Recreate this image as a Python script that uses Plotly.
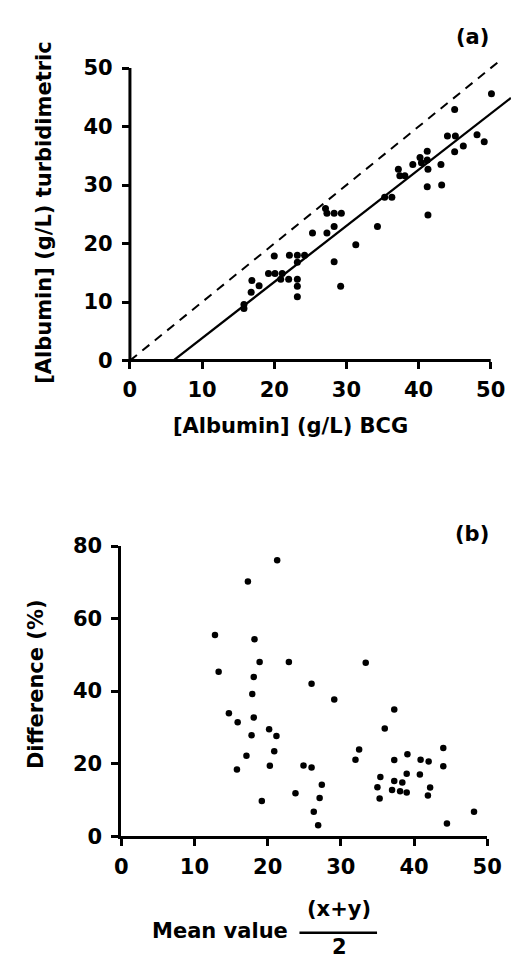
import plotly.graph_objects as go

W, H = 521, 963

# ---------------- Panel (a): turbidimetric vs BCG ----------------
bcg = [15.8, 15.8, 16.9, 16.8, 17.9, 20.0, 19.2, 20.1, 21.1, 20.9, 22.0, 22.1, 23.2, 24.2,
       23.2, 23.2, 23.2, 23.2, 25.3, 27.3, 28.3, 27.1, 27.3, 28.3, 29.3, 28.3, 29.2, 31.3,
       34.3, 35.3, 36.3, 37.2, 37.4, 38.1, 39.2, 40.2, 40.4, 41.2, 41.2, 41.3, 41.2, 41.3,
       43.1, 43.2, 44.0, 45.1, 45.0, 46.2, 45.0, 48.1, 49.1, 50.1]
turb = [9.6, 8.9, 13.7, 11.7, 12.8, 17.9, 14.9, 14.9, 14.9, 13.9, 13.9, 18.0, 18.0, 18.0,
        16.8, 13.9, 12.7, 10.9, 21.8, 21.8, 22.9, 26.0, 25.2, 25.2, 25.2, 16.9, 12.7, 19.8,
        22.9, 27.9, 27.9, 32.7, 31.6, 31.6, 33.5, 34.7, 33.8, 35.8, 34.3, 32.7, 29.7, 24.9,
        33.5, 30.0, 38.4, 38.4, 35.7, 36.7, 42.9, 38.6, 37.4, 45.6]

identity_x = [0, 51.6]
identity_y = [0, 51.6]
fit_x = [6.0, 52.8]
fit_y = [0.0, 44.9]

ticks_a = [0, 10, 20, 30, 40, 50]

# ---------------- Panel (b): difference vs mean ----------------
mean_val = [12.8, 13.3, 17.3, 21.3, 18.2, 18.9, 22.9, 33.4, 18.1, 26.0, 17.9, 29.1, 14.7, 18.1,
            15.9, 37.3, 20.2, 21.2, 17.8, 36.0, 20.9, 17.1, 15.8, 20.3, 24.9, 26.0, 19.2, 23.8,
            27.4, 27.1, 26.3, 26.9, 32.5, 32.0, 35.4, 35.0, 35.3, 37.3, 39.1, 37.3, 38.4, 39.0,
            37.0, 38.1, 39.0, 40.9, 42.0, 40.8, 42.2, 41.9, 44.0, 44.0, 44.5, 48.2]
diff_pct = [55.5, 45.3, 70.2, 76.1, 54.3, 48.0, 48.0, 47.8, 43.9, 42.0, 39.2, 37.7, 33.9, 32.7,
            31.4, 34.9, 29.5, 27.6, 27.8, 29.7, 23.4, 22.2, 18.4, 19.4, 19.5, 18.9, 9.7, 11.8,
            14.2, 10.5, 6.7, 3.0, 23.9, 21.1, 16.3, 13.5, 10.4, 21.0, 22.6, 15.2, 14.8, 17.2,
            12.7, 12.4, 12.0, 21.1, 20.6, 17.0, 13.4, 11.2, 24.3, 19.3, 3.5, 6.7]

ticks_bx = [0, 10, 20, 30, 40, 50]
ticks_by = [0, 20, 40, 60, 80]

FONT = "DejaVu Sans"

# layout geometry (pixels)
A_L, A_R, A_B, A_T = 120.0, 517.8, 349.3, 40.3
A_XR = [0, 52.8]
A_YR = [0, 51.5]
B_L, B_R, B_B, B_T = 111.0, 493.0, 837.0, 539.5


def px(p):
    return p / W


def py(p):
    return 1 - p / H


def ax_px(xv):
    return A_L + (xv - A_XR[0]) / (A_XR[1] - A_XR[0]) * (A_R - A_L)


def ay_px(yv):
    return A_B - (yv - A_YR[0]) / (A_YR[1] - A_YR[0]) * (A_B - A_T)


fig = go.Figure()

fig.add_trace(go.Scatter(x=identity_x, y=identity_y, mode="lines",
                         line=dict(color="black", width=2, dash="9px,7px"),
                         xaxis="x", yaxis="y", hoverinfo="skip"))
fig.add_trace(go.Scatter(x=fit_x, y=fit_y, mode="lines",
                         line=dict(color="black", width=2.3),
                         xaxis="x", yaxis="y", hoverinfo="skip"))
fig.add_trace(go.Scatter(x=bcg, y=turb, mode="markers",
                         marker=dict(color="black", size=7),
                         xaxis="x", yaxis="y", cliponaxis=False))

fig.add_trace(go.Scatter(x=mean_val, y=diff_pct, mode="markers",
                         marker=dict(color="black", size=6.5),
                         xaxis="x2", yaxis="y2", cliponaxis=False))

tickfont = dict(family=FONT, size=21, color="black", weight="bold")

fig.update_layout(
    width=W, height=H, showlegend=False,
    paper_bgcolor="white", plot_bgcolor="white",
    margin=dict(l=0, r=0, t=0, b=0),
    xaxis=dict(domain=[px(A_L), px(A_R)], range=A_XR, anchor="y",
               tickvals=ticks_a, ticks="outside", ticklen=7, tickwidth=2.5,
               tickcolor="black", showline=False, showgrid=False, zeroline=False,
               tickfont=tickfont, ticklabelstandoff=3),
    yaxis=dict(domain=[py(A_B), py(A_T)], range=A_YR, anchor="x",
               tickvals=ticks_a, ticks="outside", ticklen=7, tickwidth=2.5,
               tickcolor="black", showline=False, showgrid=False, zeroline=False,
               tickfont=tickfont, ticklabelstandoff=5),
    xaxis2=dict(domain=[px(B_L), px(B_R)], range=[0, 50], anchor="y2",
                tickvals=ticks_bx, ticks="outside", ticklen=7, tickwidth=2.5,
                tickcolor="black", showline=True, linewidth=3, linecolor="black",
                showgrid=False, zeroline=False, tickfont=tickfont, ticklabelstandoff=3),
    yaxis2=dict(domain=[py(B_B), py(B_T)], range=[0, 80], anchor="x2",
                tickvals=ticks_by, ticks="outside", ticklen=7, tickwidth=2.5,
                tickcolor="black", showline=True, linewidth=3, linecolor="black",
                showgrid=False, zeroline=False, tickfont=tickfont, ticklabelstandoff=5),
)

# axis lines of panel (a) (they stop at 50 while the data lines run past)
fig.add_shape(type="line", xref="paper", yref="paper",
              x0=px(ax_px(0) - 1.5), x1=px(ax_px(50)), y0=py(ay_px(0)), y1=py(ay_px(0)),
              line=dict(color="black", width=3))
fig.add_shape(type="line", xref="paper", yref="paper",
              x0=px(ax_px(0)), x1=px(ax_px(0)), y0=py(ay_px(0) + 1.5), y1=py(ay_px(50)),
              line=dict(color="black", width=3))

title_font = dict(family=FONT, size=21, color="black", weight="bold")

ann = [
    dict(text="(a)", x=px(478), y=py(17)),
    dict(text="[Albumin] (g/L) turbidimetric", x=px(30), y=py(197), textangle=-90),
    dict(text="[Albumin] (g/L) BCG", x=px(288), y=py(416)),
    dict(text="(b)", x=px(477), y=py(527)),
    dict(text="Difference (%)", x=px(22), y=py(681), textangle=-90),
    dict(text="Mean value", x=px(214), y=py(934)),
    dict(text="(x+y)", x=px(338), y=py(912)),
    dict(text="2", x=px(339), y=py(951)),
]
for a in ann:
    fig.add_annotation(xref="paper", yref="paper", showarrow=False,
                       xanchor="center", yanchor="middle", font=title_font, **a)

fig.add_shape(type="line", xref="paper", yref="paper",
              x0=px(297), x1=px(378), y0=py(936), y1=py(936),
              line=dict(color="black", width=2.5))

fig.write_html("out.html")
